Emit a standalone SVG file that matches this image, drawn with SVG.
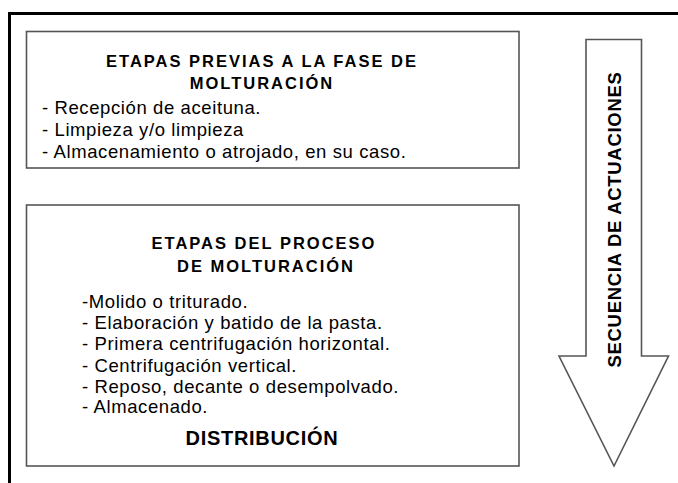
<svg xmlns="http://www.w3.org/2000/svg" width="678" height="483" viewBox="0 0 678 483">
<style>
.box{fill:#fff;stroke:#555;stroke-width:1.6}
.t{font-family:"Liberation Sans",Arial,sans-serif;fill:#000}
.h{font-weight:bold;font-size:16.5px;letter-spacing:2px;text-anchor:middle}
.b{font-size:18.5px;letter-spacing:0.6px}
.d{font-weight:bold;font-size:20px;letter-spacing:0.7px;text-anchor:middle}
.v{font-weight:bold;font-size:18.5px;letter-spacing:0.7px;text-anchor:middle}
</style>
<rect width="678" height="483" fill="#fff"/>
<path d="M9.5,483 V13.5 H678" fill="none" stroke="#000" stroke-width="3"/>
<g id="etapas-previas">
<rect class="box" x="26.5" y="31.5" width="492.5" height="136.5"/>
<text class="t h" x="262" y="67">ETAPAS PREVIAS A LA FASE DE</text>
<text class="t h" x="262" y="89">MOLTURACIÓN</text>
<text class="t b" x="42" y="114">- Recepción de aceituna.</text>
<text class="t b" x="42" y="136">- Limpieza y/o limpieza</text>
<text class="t b" x="42" y="158">- Almacenamiento o atrojado, en su caso.</text>
</g>
<g id="etapas-proceso">
<rect class="box" x="26.5" y="205" width="492.5" height="261"/>
<text class="t h" x="264" y="249">ETAPAS DEL PROCESO</text>
<text class="t h" x="266" y="272">DE MOLTURACIÓN</text>
<text class="t b" x="82" y="308">-Molido o triturado.</text>
<text class="t b" x="82" y="329">- Elaboración y batido de la pasta.</text>
<text class="t b" x="82" y="350">- Primera centrifugación horizontal.</text>
<text class="t b" x="82" y="372">- Centrifugación vertical.</text>
<text class="t b" x="82" y="393">- Reposo, decante o desempolvado.</text>
<text class="t b" x="82" y="413">- Almacenado.</text>
<text class="t d" x="262" y="445">DISTRIBUCIÓN</text>
</g>
<g id="secuencia">
<path class="box" d="M586,39.5 H641.5 V356 H668.5 L614,466 L559,356 H586 Z"/>
<text class="t v" transform="translate(621,219.5) rotate(-90)">SECUENCIA DE ACTUACIONES</text>
</g>
</svg>
